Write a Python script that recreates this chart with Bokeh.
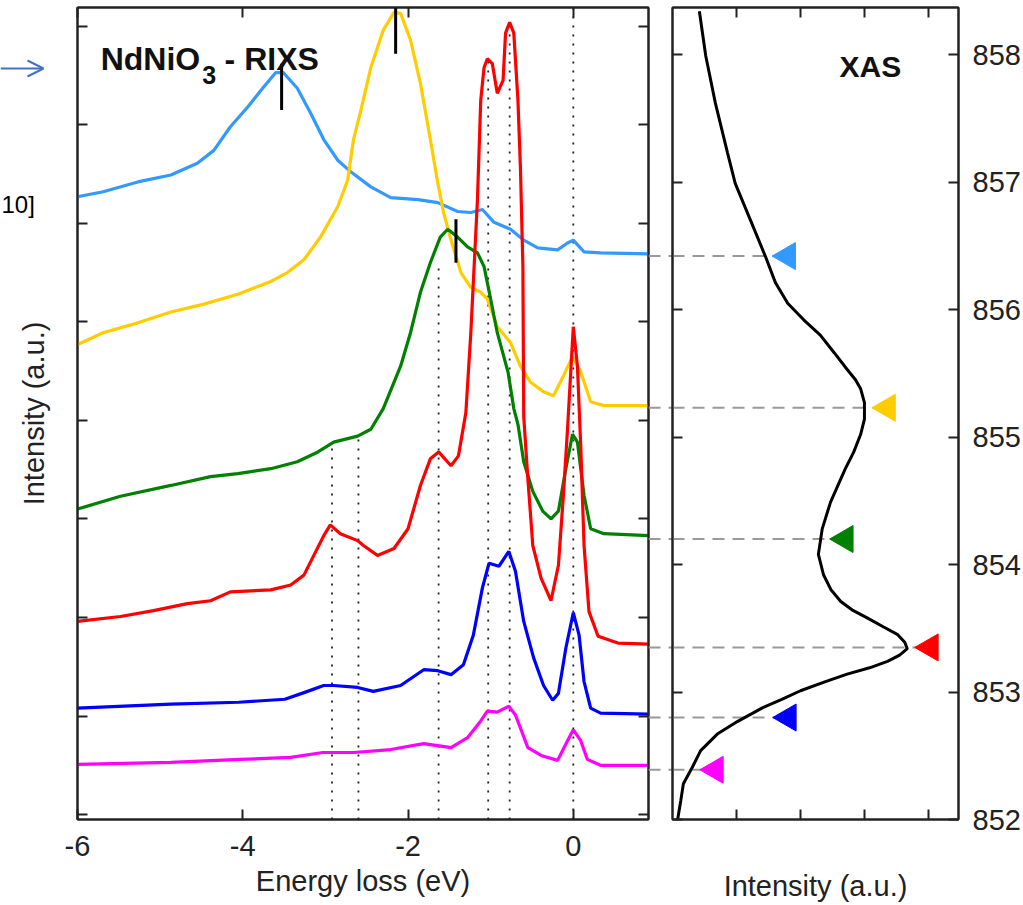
import numpy as np
from bokeh.plotting import figure
from bokeh.layouts import row
from bokeh.models import LinearAxis, Range1d, FixedTicker, Label, Arrow, OpenHead
from bokeh.embed import file_html
from bokeh.resources import INLINE

FONT = "Liberation Sans"

# ---------------- RIXS spectra (energy loss in eV, offset intensity a.u.) ----------------
lightblue_x = [-6.0, -5.69, -5.27, -4.87, -4.55, -4.35, -4.15, -3.94, -3.75, -3.60, -3.51, -3.34, -3.18,
               -3.02, -2.85, -2.69, -2.45, -2.21, -1.88, -1.64, -1.40, -1.24, -1.10, -0.96, -0.76, -0.60,
               -0.43, -0.19, -0.07, 0.0, 0.13, 0.33, 0.91]
lightblue_y = [6.27, 6.32, 6.42, 6.49, 6.61, 6.74, 6.98, 7.18, 7.38, 7.53, 7.53, 7.37, 7.12,
               6.85, 6.64, 6.52, 6.37, 6.26, 6.24, 6.21, 6.12, 6.11, 6.14, 6.01, 5.94, 5.83,
               5.75, 5.73, 5.80, 5.83, 5.71, 5.70, 5.69]

yellow_x = [-6.0, -5.69, -5.27, -4.87, -4.47, -4.06, -3.66, -3.46, -3.26, -3.06, -2.85, -2.73, -2.66,
            -2.57, -2.45, -2.30, -2.17, -2.09, -1.97, -1.85, -1.73, -1.64, -1.57, -1.48, -1.36, -1.24,
            -1.12, -1.04, -0.92, -0.76, -0.64, -0.52, -0.36, -0.24, -0.12, -0.01, 0.09, 0.21, 0.37, 0.91]
yellow_y = [4.77, 4.89, 4.99, 5.10, 5.18, 5.28, 5.41, 5.50, 5.63, 5.86, 6.17, 6.44, 6.85,
            7.15, 7.58, 7.96, 8.14, 8.13, 7.86, 7.42, 6.85, 6.41, 6.11, 5.83, 5.50, 5.35,
            5.30, 5.23, 4.95, 4.79, 4.55, 4.39, 4.29, 4.25, 4.45, 4.65, 4.49, 4.19, 4.15, 4.15]

green_x = [-6.0, -5.48, -4.87, -4.39, -4.06, -3.66, -3.34, -3.09, -2.90, -2.61, -2.45, -2.30, -2.09,
           -1.97, -1.85, -1.73, -1.61, -1.52, -1.40, -1.28, -1.16, -1.08, -1.00, -0.92, -0.79, -0.72,
           -0.67, -0.60, -0.49, -0.37, -0.27, -0.18, -0.09, -0.01, 0.05, 0.13, 0.21, 0.37, 0.91]
green_y = [3.10, 3.23, 3.34, 3.43, 3.46, 3.51, 3.58, 3.68, 3.78, 3.84, 3.91, 4.12, 4.55,
           4.89, 5.30, 5.60, 5.86, 5.94, 5.86, 5.76, 5.70, 5.56, 5.23, 4.89, 4.49, 4.12,
           3.96, 3.58, 3.28, 3.08, 3.00, 3.08, 3.51, 3.86, 3.78, 3.24, 2.90, 2.85, 2.83]

red_x = [-6.0, -5.48, -5.08, -4.67, -4.39, -4.15, -3.66, -3.42, -3.26, -3.14, -3.02, -2.94, -2.82,
         -2.61, -2.54, -2.37, -2.17, -2.00, -1.85, -1.73, -1.63, -1.48, -1.39, -1.30, -1.24, -1.16,
         -1.12, -1.08, -1.04, -0.98, -0.92, -0.85, -0.82, -0.77, -0.72, -0.67, -0.64, -0.61, -0.60,
         -0.55, -0.49, -0.39, -0.27, -0.18, -0.12, -0.07, 0.0, 0.05, 0.09, 0.13, 0.19, 0.30, 0.54, 0.91]
red_y = [1.96, 2.01, 2.07, 2.14, 2.17, 2.26, 2.28, 2.33, 2.43, 2.63, 2.83, 2.94, 2.85,
         2.78, 2.73, 2.63, 2.70, 2.90, 3.34, 3.61, 3.68, 3.54, 3.64, 4.08, 4.89, 6.24,
         7.25, 7.58, 7.67, 7.62, 7.32, 7.45, 7.93, 8.04, 7.93, 7.25, 6.57, 5.56, 4.04,
         3.41, 2.73, 2.40, 2.17, 2.53, 3.24, 3.91, 4.95, 4.55, 3.74, 2.73, 2.06, 1.81, 1.74, 1.73]

blue_x = [-6.0, -4.87, -4.05, -3.49, -3.25, -3.02, -2.90, -2.61, -2.42, -2.09, -1.81, -1.64, -1.48,
          -1.33, -1.21, -1.10, -1.02, -0.90, -0.78, -0.70, -0.60, -0.48, -0.36, -0.25, -0.18, -0.09,
          0.0, 0.07, 0.13, 0.21, 0.33, 0.91]
blue_y = [1.08, 1.12, 1.14, 1.17, 1.24, 1.31, 1.31, 1.29, 1.25, 1.31, 1.47, 1.46, 1.42,
          1.52, 1.82, 2.30, 2.55, 2.52, 2.67, 2.47, 1.96, 1.59, 1.31, 1.16, 1.23, 1.69,
          2.05, 1.82, 1.35, 1.08, 1.03, 1.02]

magenta_x = [-6.0, -4.87, -4.03, -3.42, -3.03, -2.66, -2.21, -1.81, -1.48, -1.28, -1.12, -1.04, -0.92,
             -0.78, -0.70, -0.55, -0.39, -0.19, -0.07, 0.0, 0.09, 0.17, 0.33, 0.91]
magenta_y = [0.51, 0.53, 0.56, 0.58, 0.63, 0.63, 0.66, 0.72, 0.68, 0.78, 0.95, 1.05, 1.04,
             1.10, 1.01, 0.68, 0.60, 0.55, 0.75, 0.86, 0.75, 0.56, 0.50, 0.50]

# peak markers (short black bars) and dotted guide lines
peak_x = [-3.53, -2.15, -1.42]
peak_top = [7.62, 8.40, 6.04]
peak_bottom = [7.15, 7.72, 5.60]
guide_x = [-2.92, -2.60, -1.63, -1.03, -0.77, 0.0]
guide_top = [3.75, 3.83, 5.60, 7.65, 7.99, 8.30]

# tick values / labels
rixs_ticks = [-6, -4, -2, 0]
rixs_tick_labels = ["-6", "-4", "-2", "0"]
intensity_ticks = list(range(0, 9))
xas_int_ticks = [1, 2, 3, 4]
xas_e_ticks = list(range(852, 859))

# ---------------- XAS ----------------
xas_energy = [858.34, 857.99, 857.62, 857.23, 856.99, 856.70, 856.42, 856.21, 856.05, 855.92, 855.80,
              855.66, 855.53, 855.45, 855.38, 855.27, 855.14, 855.02, 854.88, 854.75, 854.49, 854.28,
              854.08, 853.92, 853.80, 853.71, 853.64, 853.58, 853.51, 853.45, 853.39, 853.34, 853.29,
              853.24, 853.19, 853.14, 853.08, 853.01, 852.94, 852.88, 852.77, 852.67, 852.54, 852.41,
              852.28, 852.15, 852.0]
xas_intensity = [0.42, 0.52, 0.67, 0.86, 0.98, 1.22, 1.45, 1.61, 1.80, 2.05, 2.31,
                 2.53, 2.73, 2.86, 2.94, 3.00, 3.00, 2.94, 2.83, 2.70, 2.47, 2.34,
                 2.28, 2.36, 2.48, 2.63, 2.82, 3.05, 3.30, 3.52, 3.63, 3.67, 3.55,
                 3.36, 3.08, 2.73, 2.38, 2.00, 1.70, 1.42, 1.02, 0.70, 0.44, 0.31,
                 0.17, 0.13, 0.08]

# excitation energies (triangles) for each spectrum
series_colors = ["#3399FF", "#FFCC00", "#008000", "#FF0000", "#0000FF", "#FF00FF"]
excitation_energy = [856.42, 855.23, 854.20, 853.35, 852.80, 852.39]
marker_intensity = [1.80, 3.36, 2.70, 4.03, 1.81, 0.67]

INK = "#222222"
DASH_COLOR = "#999999"


def style_axis(ax, ticks, labels=None):
    ax.ticker = FixedTicker(ticks=ticks)
    ax.major_tick_in = 10
    ax.major_tick_out = 0
    ax.minor_tick_line_color = None
    ax.major_tick_line_width = 2
    ax.major_tick_line_color = INK
    ax.axis_line_width = 2
    ax.axis_line_color = INK
    ax.major_label_text_font = FONT
    ax.major_label_text_color = INK
    if labels is None:
        ax.major_label_text_font_size = "29px"
    elif labels == "none":
        ax.major_label_overrides = {t: "" for t in ticks}
        ax.major_label_text_font_size = "1px"
        ax.major_label_standoff = 0
    else:
        ax.major_label_overrides = dict(zip(ticks, labels))
        ax.major_label_text_font_size = "29px"
    ax.axis_label_text_font = FONT
    ax.axis_label_text_font_size = "29px"
    ax.axis_label_text_font_style = "normal"
    ax.axis_label_text_color = INK


# ---------------- slide fragments at the far left (pixel-like coordinates) ----------------
frag = figure(width=45, height=905, x_range=Range1d(0, 45), y_range=Range1d(0, 905),
              output_backend="svg", toolbar_location=None, x_axis_location=None,
              y_axis_location=None, min_border=0, outline_line_color=None)
frag.xgrid.visible = False
frag.ygrid.visible = False
frag.add_layout(Label(x=1, y=685, text="10]", text_font=FONT, text_font_size="24px",
                      text_baseline="alphabetic", text_color="black"))
frag.add_layout(Arrow(x_start=0, y_start=837, x_end=43, y_end=837, line_color="#4472C4",
                      line_width=2, end=OpenHead(size=16, line_color="#4472C4", line_width=2)))

# ---------------- left panel: RIXS ----------------
p = figure(width=660, height=905, x_range=Range1d(-6, 0.91), y_range=Range1d(-0.05, 8.19),
           output_backend="svg", toolbar_location=None,
           min_border_left=77, min_border_right=12, min_border_top=7, min_border_bottom=83)
p.margin = (0, 0, 0, -45)
p.border_fill_alpha = 0
p.xgrid.visible = False
p.ygrid.visible = False
p.outline_line_color = INK
p.outline_line_width = 2

style_axis(p.xaxis[0], rixs_ticks, rixs_tick_labels)
p.xaxis[0].major_label_standoff = 16
p.xaxis[0].axis_label = "Energy loss (eV)"
p.xaxis[0].axis_label_standoff = 6
style_axis(p.yaxis[0], intensity_ticks, "none")
p.yaxis[0].axis_label = "Intensity (a.u.)"
p.yaxis[0].axis_label_standoff = 28

top_ax = LinearAxis()
style_axis(top_ax, rixs_ticks, "none")
p.add_layout(top_ax, "above")
right_ax = LinearAxis()
style_axis(right_ax, intensity_ticks, "none")
p.add_layout(right_ax, "right")

p.segment(x0=guide_x, y0=[-0.05] * len(guide_x), x1=guide_x, y1=guide_top,
          line_color="#222222", line_width=1.8, line_dash="2 7")

for xs, ys, c in [(lightblue_x, lightblue_y, series_colors[0]),
                  (yellow_x, yellow_y, series_colors[1]),
                  (green_x, green_y, series_colors[2]),
                  (red_x, red_y, series_colors[3]),
                  (blue_x, blue_y, series_colors[4]),
                  (magenta_x, magenta_y, series_colors[5])]:
    p.line(xs, ys, line_color=c, line_width=3.2)

p.segment(x0=peak_x, y0=peak_bottom, x1=peak_x, y1=peak_top, line_color="black", line_width=3)

p.add_layout(Label(x=-5.72, y=7.67, text="NdNiO", text_font=FONT, text_font_size="32px",
                   text_font_style="bold", text_baseline="alphabetic", text_color="#111111"))
p.add_layout(Label(x=-4.49, y=7.50, text="3", text_font=FONT, text_font_size="25px",
                   text_font_style="bold", text_baseline="alphabetic", text_color="#111111"))
p.add_layout(Label(x=-4.22, y=7.67, text="- RIXS", text_font=FONT, text_font_size="32px",
                   text_font_style="bold", text_baseline="alphabetic", text_color="#111111"))

# ---------------- bridge between the panels (dashed connectors in the gap) ----------------
bridge = figure(width=24, height=905, x_range=Range1d(0, 1), y_range=Range1d(852, 858.37),
                output_backend="svg", toolbar_location=None, x_axis_location=None,
                y_axis_location=None, min_border_left=0, min_border_right=0,
                min_border_top=5, min_border_bottom=86, outline_line_color=None)
bridge.margin = (0, 0, 0, -12)
bridge.border_fill_alpha = 0
bridge.background_fill_alpha = 0
bridge.xgrid.visible = False
bridge.ygrid.visible = False
bridge.segment(x0=[0] * len(excitation_energy), y0=excitation_energy,
               x1=[1] * len(excitation_energy), y1=excitation_energy,
               line_color=DASH_COLOR, line_width=2, line_dash="12 8")

# ---------------- right panel: XAS ----------------
q = figure(width=363, height=905, x_range=Range1d(0, 4.47), y_range=Range1d(852, 858.37),
           output_backend="svg", toolbar_location=None, y_axis_location="right",
           min_border_left=12, min_border_right=65, min_border_top=5, min_border_bottom=86)
q.margin = (0, 0, 0, -12)
q.border_fill_alpha = 0
q.xgrid.visible = False
q.ygrid.visible = False
q.outline_line_color = INK
q.outline_line_width = 2

style_axis(q.xaxis[0], xas_int_ticks, "none")
q.xaxis[0].axis_label = "Intensity (a.u.)"
q.xaxis[0].axis_label_standoff = 50
style_axis(q.yaxis[0], xas_e_ticks)
q.yaxis[0].major_label_standoff = 14

q_top = LinearAxis()
style_axis(q_top, xas_int_ticks, "none")
q.add_layout(q_top, "above")
q_left = LinearAxis()
style_axis(q_left, xas_e_ticks, "none")
q.add_layout(q_left, "left")

q.segment(x0=[0] * len(excitation_energy), y0=excitation_energy, x1=marker_intensity,
          y1=excitation_energy, line_color=DASH_COLOR, line_width=2, line_dash="12 8")
q.line(xas_intensity, xas_energy, line_color="black", line_width=3)
q.scatter(marker_intensity, excitation_energy, marker="triangle", size=27, angle=np.pi / 2,
          fill_color=series_colors, line_color=series_colors)

q.add_layout(Label(x=2.61, y=857.91, text="XAS", text_font=FONT, text_font_size="30px",
                   text_font_style="bold", text_baseline="alphabetic", text_color="#111111"))

layout = row(frag, p, bridge, q, spacing=0)
open("out.html", "w").write(file_html(layout, INLINE))
